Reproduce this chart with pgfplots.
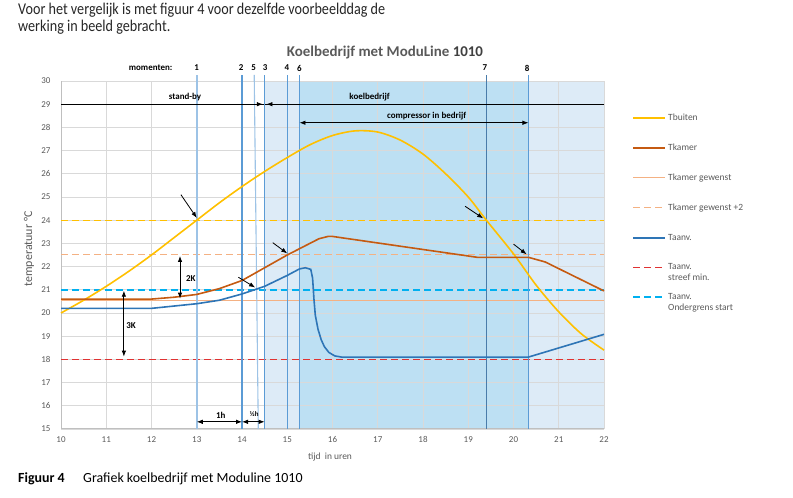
\documentclass[border=0pt]{standalone}
\usepackage{fontspec}
\setmainfont{Carlito}
\usepackage{pgfplots}
\pgfplotsset{compat=1.18}
\usetikzlibrary{arrows.meta}
\definecolor{tbuiten}{HTML}{FFC000}
\definecolor{tkamer}{HTML}{C55A11}
\definecolor{tkgew}{HTML}{F4B183}
\definecolor{taanv}{HTML}{2E75B6}
\definecolor{streefc}{RGB}{224,50,50}
\definecolor{onderc}{RGB}{0,176,240}
\definecolor{lightshade}{HTML}{DDEBF7}
\definecolor{darkshade}{HTML}{BDE0F3}
\definecolor{gridc}{HTML}{D9D9D9}
\definecolor{axisc}{HTML}{BFBFBF}
\definecolor{textgray}{HTML}{595959}
\definecolor{mom}{HTML}{5B9BD5}
\definecolor{momlight}{HTML}{9DC3E6}
\begin{document}
\begin{tikzpicture}
\path (0,0) rectangle (793bp,498bp);
\node[anchor=base west, inner sep=0, font=\fontsize{16.5}{18}\selectfont, text=black!85] at (18bp,483bp) {\scalebox{0.86}[1]{Voor het vergelijk is met figuur 4 voor dezelfde voorbeelddag de}};
\node[anchor=base west, inner sep=0, font=\fontsize{16.5}{18}\selectfont, text=black!85] at (18bp,466bp) {\scalebox{0.86}[1]{werking in beeld gebracht.}};
\node[anchor=base, inner sep=0, font=\fontsize{15}{16}\selectfont\bfseries, text=textgray] at (385bp,441bp) {Koelbedrijf met ModuLine \textcolor{black!75}{1010}};
\node[anchor=base west, inner sep=0, font=\fontsize{14}{16}\selectfont\bfseries] at (18bp,16bp) {Figuur 4};
\node[anchor=base west, inner sep=0, font=\fontsize{14}{16}\selectfont] at (83bp,16bp) {Grafiek koelbedrijf met Moduline 1010};
\node[anchor=center, inner sep=0, font=\fontsize{9.5}{10}\selectfont, text=textgray] at (330bp,41bp) {tijd\ \ in uren};
\node[anchor=center, inner sep=0, rotate=90, font=\fontsize{12}{12}\selectfont, text=textgray] at (29bp,249bp) {temperatuur °C};
\begin{axis}[
  set layers,
  at={(61bp,69bp)}, anchor=south west,
  scale only axis, width=543bp, height=348bp,
  xmin=10, xmax=22, ymin=15, ymax=30,
  xtick={10,...,22}, ytick={15,...,30},
  grid=major, major grid style={draw=gridc, line width=0.7bp},
  axis x line*=bottom, axis y line*=left,
  axis line style={draw=axisc, line width=1bp, -},
  major tick length=0pt,
  tick label style={font=\fontsize{9}{10}\selectfont, text=textgray},
  xticklabel style={yshift=-4bp},
  yticklabel style={xshift=-7bp},
  /pgf/number format/assume math mode=true,
  clip=false,
  legend style={at={(1.052,0.912)}, anchor=north west, draw=none, fill=none,
    font=\fontsize{9.5}{11}\selectfont, text=textgray, row sep=18bp, inner sep=0pt,
    /tikz/every even column/.append style={column sep=2bp}},
  legend image code/.code={\draw[#1] (0bp,0bp) -- (32bp,0bp);},
  legend cell align=left,
]
% legend
\addlegendimage{draw=tbuiten, line width=1.8bp}
\addlegendentry{Tbuiten}
\addlegendimage{draw=tkamer, line width=1.8bp}
\addlegendentry{Tkamer}
\addlegendimage{draw=tkgew, line width=1bp}
\addlegendentry{Tkamer gewenst}
\addlegendimage{draw=tkgew, line width=1bp, dash pattern=on 7bp off 4bp}
\addlegendentry{Tkamer gewenst +2}
\addlegendimage{draw=taanv, line width=1.8bp}
\addlegendentry{Taanv.}
\addlegendimage{draw=streefc, line width=1.5bp, dash pattern=on 7bp off 4bp}
\addlegendentry{\smash{\rlap{\raisebox{-11bp}{streef min.}}}Taanv.}
\addlegendimage{draw=onderc, line width=1.5bp, dash pattern=on 7bp off 4bp}
\addlegendentry{\smash{\rlap{\raisebox{-11bp}{Ondergrens start}}}Taanv.}
% shading
\addplot[forget plot, fill=lightshade, draw=none, on layer=axis background] coordinates {(14.5,15) (14.5,30) (22,30) (22,15)} -- cycle;
\addplot[forget plot, fill=darkshade, draw=none, on layer=axis background] coordinates {(15.27,15) (15.27,30) (20.33,30) (20.33,15)} -- cycle;
% horizontal reference lines
\addplot[forget plot, draw=tkgew, line width=1bp] coordinates {(10,20.52) (22,20.52)};
\addplot[forget plot, draw=tkgew, line width=1bp, dash pattern=on 7bp off 4bp] coordinates {(10,22.5) (22,22.5)};
\addplot[forget plot, draw=tbuiten, line width=1.2bp, dash pattern=on 7bp off 4bp] coordinates {(10,24) (22,24)};
\addplot[forget plot, draw=onderc, line width=1.6bp, dash pattern=on 7bp off 4bp] coordinates {(10,21) (22,21)};
\addplot[forget plot, draw=streefc, line width=1.6bp, dash pattern=on 7bp off 4bp] coordinates {(10,18) (22,18)};
\addplot[forget plot, draw=black, line width=0.8bp] coordinates {(10,29) (22,29)};
% moment lines
\addplot[forget plot, draw=momlight, line width=1.8bp] coordinates {(13,15) (13,30.26)};
\addplot[forget plot, draw=mom, line width=1.3bp] coordinates {(14,15) (14,30.26)};
\addplot[forget plot, draw=momlight, line width=1.1bp] coordinates {(14.36,15) (14.27,30.26)};
\addplot[forget plot, draw=mom, line width=1.3bp] coordinates {(14.5,15) (14.5,30.26)};
\addplot[forget plot, draw=mom, line width=1.3bp] coordinates {(15,15) (15,30.26)};
\addplot[forget plot, draw=mom, line width=1.3bp] coordinates {(15.27,15) (15.27,30.26)};
\addplot[forget plot, draw=mom!80!black, line width=1.0bp] coordinates {(19.4,15) (19.4,30.26)};
\addplot[forget plot, draw=mom, line width=1.6bp] coordinates {(20.33,15) (20.33,30.26)};
% Tbuiten
\addplot[forget plot, draw=tbuiten, line width=1.6bp, smooth] coordinates {
(10,20.0) (10.5,20.55) (11,21.15) (11.5,21.8) (12,22.5) (12.5,23.25) (13,24.0) (13.5,24.75)
(14,25.45) (14.5,26.1) (15,26.7) (15.5,27.25) (16,27.65) (16.5,27.85) (17,27.8) (17.5,27.45)
(18,26.85) (18.5,26.0) (19,25.0) (19.4,24.0) (20,22.55) (20.5,21.2) (21,20.05) (21.5,19.1) (22,18.4)};
% Tkamer
\addplot[forget plot, draw=tkamer, line width=1.6bp] coordinates {
(10,20.6) (12,20.6) (12.5,20.68) (13,20.8) (13.5,21.05) (14,21.4) (14.5,21.95) (15,22.5)
(15.5,23.0) (15.7,23.2) (15.9,23.3) (16.0,23.3) (19.2,22.4) (20.33,22.4) (20.7,22.2) (22,20.95)};
% Taanv
\addplot[forget plot, draw=taanv, line width=1.6bp] coordinates {
(10,20.2) (12,20.2) (12.5,20.3) (13,20.4) (13.5,20.55) (14,20.82) (14.35,21.05) (14.5,21.15)
(15,21.62) (15.27,21.9) (15.4,21.95) (15.52,21.88) (15.56,21.5) (15.59,20.6) (15.62,19.9)
(15.68,19.3) (15.75,18.85) (15.82,18.55) (15.92,18.3) (16.05,18.15) (16.2,18.1) (20.33,18.1) (22,19.08)};
% annotations
\begin{scope}[line width=0.8bp, black]
\draw[-{Latex[length=6bp,width=4.5bp]}] (axis cs:10,29) -- (axis cs:14.46,29);
\draw[-{Latex[length=6bp,width=4.5bp]}] (axis cs:22,29) -- (axis cs:14.54,29);
\draw[{Latex[length=6bp,width=4.5bp]}-{Latex[length=6bp,width=4.5bp]}] (axis cs:15.27,28.2) -- (axis cs:20.33,28.2);
\draw[-{Latex[length=6bp,width=4.5bp]}] (axis cs:12.65,25.1) -- (axis cs:13.0,24.1);
\draw[-{Latex[length=6bp,width=4.5bp]}] (axis cs:14.68,23.03) -- (axis cs:15.0,22.57);
\draw[-{Latex[length=6bp,width=4.5bp]}] (axis cs:13.92,21.54) -- (axis cs:14.29,21.1);
\draw[-{Latex[length=6bp,width=4.5bp]}] (axis cs:18.93,24.6) -- (axis cs:19.33,24.08);
\draw[-{Latex[length=6bp,width=4.5bp]}] (axis cs:20.0,22.97) -- (axis cs:20.29,22.53);
\draw[{Latex[length=6bp,width=4.5bp]}-{Latex[length=6bp,width=4.5bp]}] (axis cs:12.63,22.46) -- (axis cs:12.63,20.62);
\draw[{Latex[length=6bp,width=4.5bp]}-{Latex[length=6bp,width=4.5bp]}] (axis cs:11.39,20.96) -- (axis cs:11.39,18.12);
\draw[{Latex[length=6bp,width=4.5bp]}-{Latex[length=6bp,width=4.5bp]}] (axis cs:13.0,15.31) -- (axis cs:14.0,15.31);
\draw[{Latex[length=6bp,width=4.5bp]}-{Latex[length=6bp,width=4.5bp]}] (axis cs:14.0,15.31) -- (axis cs:14.5,15.31);
\end{scope}
\begin{scope}[every node/.style={inner sep=0, font=\fontsize{9}{10}\selectfont\bfseries}]
\node at (axis cs:12.74,29.3) {stand-by};
\node at (axis cs:16.82,29.3) {koelbedrijf};
\node at (axis cs:18.08,28.5) {compressor in bedrijf};
\node[anchor=west] at (axis cs:12.76,21.47) {2K};
\node[anchor=west] at (axis cs:11.44,19.44) {3K};
\node at (axis cs:13.53,15.6) {1h};
\node[font=\fontsize{7}{8}\selectfont\bfseries] at (axis cs:14.27,15.65) {½h};
\node at (axis cs:11.98,30.56) {momenten:};
\node at (axis cs:13.0,30.56) {1};
\node at (axis cs:13.98,30.56) {2};
\node at (axis cs:14.26,30.56) {5};
\node at (axis cs:14.51,30.56) {3};
\node at (axis cs:14.99,30.56) {4};
\node at (axis cs:15.27,30.56) {6};
\node at (axis cs:19.37,30.56) {7};
\node at (axis cs:20.3,30.56) {8};
\end{scope}
\end{axis}
\end{tikzpicture}
\end{document}
